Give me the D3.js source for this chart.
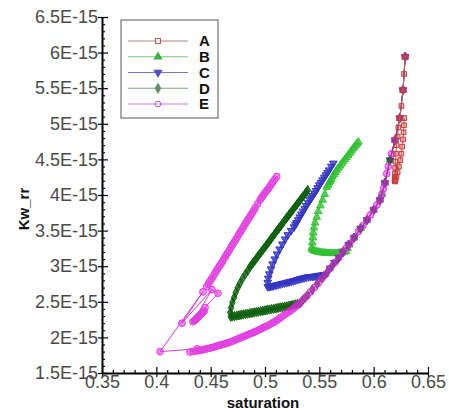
<!DOCTYPE html>
<html><head><meta charset="utf-8">
<script src="https://cdn.jsdelivr.net/npm/d3@7"></script>
<style>
html,body{margin:0;padding:0;background:#fff;}
svg{display:block;}
</style></head>
<body>
<svg id="chart" width="449" height="412"></svg>
<script>
// ---- data (saturation, Kw_rr in units of 1E-15) ----
const xTicks = [0.35, 0.4, 0.45, 0.5, 0.55, 0.6, 0.65];
const xTickLabels = ["0.35", "0.4", "0.45", "0.5", "0.55", "0.6", "0.65"];
const yTicks = [1.5, 2, 2.5, 3, 3.5, 4, 4.5, 5, 5.5, 6, 6.5];
const yTickLabels = ["1.5E-15", "2E-15", "2.5E-15", "3E-15", "3.5E-15", "4E-15", "4.5E-15", "5E-15", "5.5E-15", "6E-15", "6.5E-15"];
const seriesNames = ["A", "B", "C", "D", "E"];

const seriesA = [[0.629,5.94],[0.628,5.70],[0.627,5.475],[0.6255,5.25],[0.624,5.08],[0.6228,4.95],[0.622,4.82],[0.621,4.70],[0.6205,4.58],[0.620,4.47],[0.6198,4.38],[0.6196,4.30],[0.6195,4.25],[0.6194,4.22],[0.6193,4.20],[0.6197,4.19],[0.6202,4.21],[0.621,4.26],[0.622,4.32],[0.6232,4.40],[0.6245,4.49],[0.6255,4.58],[0.6263,4.68],[0.627,4.78],[0.6275,4.88],[0.6279,4.98],[0.6282,5.08]];

const seriesB = [[0.629,5.94],[0.627,5.475],[0.624,5.08],[0.6196,4.77],[0.615,4.49],[0.6104,4.17],[0.6075,4.01],[0.6058,3.93],[0.600,3.79],[0.5939,3.65],[0.588,3.53],[0.582,3.40],[0.5775,3.30],[0.576,3.25],[0.5745,3.21],[0.5728,3.20],[0.571,3.19],[0.5695,3.187],[0.568,3.185],[0.5665,3.182],[0.565,3.18],[0.5635,3.18],[0.562,3.18],[0.5605,3.18],[0.559,3.18],[0.5575,3.182],[0.556,3.185],[0.5545,3.187],[0.553,3.19],[0.5515,3.192],[0.550,3.195],[0.549,3.20],[0.5475,3.205],[0.546,3.212],[0.545,3.22],[0.544,3.23],[0.5435,3.24],[0.543,3.26],[0.5435,3.33],[0.544,3.40],[0.5444,3.47],[0.545,3.54],[0.546,3.61],[0.5476,3.69],[0.549,3.77],[0.551,3.85],[0.553,3.93],[0.555,4.01],[0.5568,4.11],[0.558,4.14],[0.559,4.17],[0.560,4.195],[0.561,4.22],[0.5622,4.255],[0.5635,4.29],[0.5648,4.32],[0.566,4.35],[0.5675,4.38],[0.569,4.41],[0.5705,4.44],[0.572,4.47],[0.5735,4.50],[0.575,4.53],[0.5765,4.56],[0.578,4.59],[0.5795,4.62],[0.581,4.65],[0.5822,4.675],[0.5835,4.70],[0.5847,4.72],[0.5859,4.745]];

const seriesC = [[0.629,5.94],[0.627,5.475],[0.624,5.08],[0.6196,4.77],[0.615,4.49],[0.6104,4.17],[0.6058,3.93],[0.600,3.79],[0.5939,3.65],[0.588,3.53],[0.582,3.40],[0.577,3.30],[0.5718,3.20],[0.568,3.12],[0.564,3.05],[0.560,2.97],[0.5555,2.88],[0.554,2.878],[0.552,2.875],[0.550,2.87],[0.548,2.865],[0.546,2.86],[0.544,2.855],[0.542,2.852],[0.540,2.85],[0.538,2.843],[0.536,2.835],[0.534,2.828],[0.532,2.82],[0.530,2.81],[0.528,2.80],[0.526,2.793],[0.524,2.785],[0.522,2.778],[0.520,2.77],[0.518,2.763],[0.516,2.755],[0.514,2.748],[0.512,2.74],[0.510,2.733],[0.508,2.725],[0.5065,2.72],[0.505,2.715],[0.5038,2.712],[0.5025,2.71],[0.5025,2.77],[0.503,2.83],[0.504,2.89],[0.5055,2.96],[0.507,3.03],[0.509,3.10],[0.511,3.17],[0.5135,3.24],[0.516,3.31],[0.5185,3.38],[0.521,3.44],[0.524,3.50],[0.5267,3.55],[0.528,3.585],[0.529,3.61],[0.5305,3.65],[0.532,3.69],[0.5335,3.73],[0.535,3.77],[0.5365,3.81],[0.538,3.85],[0.5397,3.89],[0.5414,3.93],[0.5427,3.96],[0.544,3.99],[0.5455,4.025],[0.547,4.06],[0.5485,4.10],[0.550,4.14],[0.5515,4.175],[0.553,4.21],[0.5545,4.245],[0.556,4.28],[0.5575,4.315],[0.559,4.35],[0.561,4.40],[0.5629,4.445]];

const seriesD = [[0.629,5.94],[0.627,5.475],[0.624,5.08],[0.6196,4.77],[0.615,4.49],[0.6104,4.17],[0.6058,3.93],[0.600,3.79],[0.5939,3.65],[0.588,3.53],[0.582,3.40],[0.577,3.30],[0.5718,3.20],[0.567,3.10],[0.562,3.01],[0.557,2.91],[0.5525,2.83],[0.548,2.75],[0.5435,2.67],[0.539,2.59],[0.5355,2.535],[0.5322,2.48],[0.530,2.472],[0.528,2.465],[0.526,2.457],[0.524,2.45],[0.522,2.443],[0.520,2.437],[0.518,2.431],[0.516,2.425],[0.514,2.42],[0.512,2.414],[0.510,2.408],[0.508,2.402],[0.506,2.397],[0.504,2.391],[0.502,2.385],[0.500,2.379],[0.498,2.373],[0.496,2.368],[0.494,2.362],[0.492,2.356],[0.490,2.35],[0.488,2.345],[0.486,2.339],[0.484,2.333],[0.482,2.328],[0.480,2.322],[0.478,2.316],[0.476,2.31],[0.474,2.305],[0.472,2.299],[0.470,2.294],[0.4685,2.29],[0.4680,2.35],[0.4688,2.42],[0.470,2.49],[0.4715,2.56],[0.473,2.63],[0.475,2.70],[0.477,2.76],[0.4795,2.83],[0.482,2.89],[0.4842,2.94],[0.4862,2.99],[0.4876,3.02],[0.489,3.047],[0.4905,3.078],[0.492,3.108],[0.4935,3.14],[0.495,3.17],[0.4965,3.20],[0.498,3.23],[0.4995,3.26],[0.501,3.29],[0.5025,3.32],[0.504,3.35],[0.5055,3.383],[0.507,3.415],[0.5085,3.445],[0.510,3.476],[0.5115,3.507],[0.513,3.537],[0.5145,3.568],[0.516,3.598],[0.5175,3.63],[0.519,3.66],[0.5205,3.69],[0.522,3.72],[0.5235,3.75],[0.525,3.78],[0.5265,3.81],[0.528,3.84],[0.5295,3.87],[0.531,3.90],[0.5325,3.93],[0.534,3.96],[0.5355,3.99],[0.537,4.02],[0.5382,4.045],[0.5393,4.07]];

const seriesE = [[0.629,5.94],[0.627,5.475],[0.624,5.08],[0.6196,4.77],[0.6165,4.58],[0.6135,4.40],[0.612,4.30],[0.6104,4.17],[0.609,4.09],[0.6075,4.01],[0.6058,3.93],[0.603,3.86],[0.600,3.79],[0.597,3.72],[0.5939,3.65],[0.590,3.57],[0.586,3.49],[0.582,3.40],[0.578,3.32],[0.575,3.26],[0.5718,3.20],[0.568,3.12],[0.564,3.05],[0.560,2.97],[0.556,2.89],[0.5525,2.83],[0.549,2.76],[0.5455,2.70],[0.542,2.64],[0.5385,2.58],[0.5355,2.535],[0.5322,2.48],[0.530,2.455],[0.528,2.43],[0.526,2.405],[0.524,2.38],[0.522,2.36],[0.520,2.34],[0.5175,2.31],[0.515,2.285],[0.513,2.262],[0.511,2.24],[0.509,2.222],[0.507,2.205],[0.505,2.187],[0.503,2.17],[0.501,2.155],[0.499,2.14],[0.497,2.125],[0.495,2.11],[0.493,2.095],[0.4908,2.08],[0.489,2.067],[0.487,2.055],[0.485,2.042],[0.483,2.03],[0.481,2.017],[0.479,2.005],[0.477,1.992],[0.475,1.98],[0.473,1.965],[0.4706,1.95],[0.4685,1.937],[0.466,1.925],[0.464,1.915],[0.462,1.905],[0.460,1.897],[0.458,1.89],[0.456,1.88],[0.454,1.87],[0.452,1.86],[0.4494,1.85],[0.447,1.842],[0.445,1.835],[0.443,1.827],[0.441,1.82],[0.439,1.815],[0.437,1.81],[0.434,1.80],[0.431,1.795],[0.4374,1.84],[0.4034,1.80],[0.4429,2.64],[0.4236,2.20],[0.4512,2.67],[0.4337,2.22],[0.435,2.235],[0.436,2.25],[0.437,2.265],[0.438,2.28],[0.439,2.295],[0.440,2.31],[0.441,2.325],[0.442,2.34],[0.443,2.355],[0.444,2.37],[0.4448,2.42],[0.4567,2.62],[0.4463,2.71],[0.4477,2.745],[0.449,2.78],[0.4505,2.815],[0.452,2.85],[0.4535,2.89],[0.455,2.93],[0.4565,2.965],[0.458,3.00],[0.4595,3.035],[0.461,3.07],[0.4625,3.11],[0.464,3.15],[0.4655,3.185],[0.467,3.22],[0.4685,3.26],[0.470,3.30],[0.4715,3.335],[0.473,3.37],[0.4745,3.41],[0.476,3.45],[0.4775,3.485],[0.479,3.52],[0.4805,3.56],[0.482,3.60],[0.4835,3.635],[0.485,3.67],[0.4865,3.705],[0.488,3.74],[0.4895,3.78],[0.491,3.82],[0.4932,3.875],[0.4954,3.93],[0.4967,3.96],[0.498,3.99],[0.4995,4.02],[0.501,4.05],[0.5025,4.08],[0.504,4.11],[0.5055,4.145],[0.507,4.18],[0.509,4.22],[0.5108,4.26]];

// ---- styling ----
const styles = {
  A: {line:"#b06a6a", stroke:"#c23a3a", fill:"rgba(225,70,70,0.35)", symbol:d3.symbolSquare, size:22, rot:0, lgLine:"#b88080", lgMark:"#b06060"},
  B: {line:"#3cc23c", stroke:"#33c033", fill:"rgba(50,195,50,0.75)", symbol:d3.symbolTriangle, size:25, rot:0, lgLine:"#78c878", lgMark:"#40b040"},
  C: {line:"#3a3ac4", stroke:"#3434c4", fill:"rgba(52,52,196,0.75)", symbol:d3.symbolTriangle, size:25, rot:180, lgLine:"#7878c8", lgMark:"#5050c0"},
  D: {line:"#0a640a", stroke:"#0d5e0d", fill:"rgba(12,94,12,0.75)", symbol:d3.symbolDiamond, size:25, rot:0, lgLine:"#78a878", lgMark:"#609060"},
  E: {line:"#d020d0", stroke:"#dc24dc", fill:"rgba(225,40,225,0.6)", symbol:d3.symbolCircle, size:36, rot:0, lgLine:"#d078d8", lgMark:"#b060c8"}
};
const seriesData = {A: seriesA, B: seriesB, C: seriesC, D: seriesD, E: seriesE};

const svg = d3.select("#chart");
svg.append("rect").attr("width",449).attr("height",412).attr("fill","#fff");

const x = d3.scaleLinear().domain([0.35, 0.65]).range([102, 428]);
const y = d3.scaleLinear().domain([1.5, 6.5]).range([373, 17]);
const FONT = "'Liberation Sans', Arial, sans-serif";

// minor ticks
const xMinor = d3.range(35, 66, 1).map(v => v/100).filter(v => !xTicks.some(t => Math.abs(t-v) < 1e-9));
const yMinor = d3.range(15, 66, 1).map(v => v/10).filter(v => !yTicks.some(t => Math.abs(t-v) < 1e-9));

// X axis
const gx = svg.append("g").attr("transform","translate(0,373)");
gx.call(d3.axisBottom(x).tickValues(xMinor).tickSize(-3).tickFormat(""))
  .call(g => g.select(".domain").remove());
const gx2 = svg.append("g").attr("transform","translate(0,373)");
gx2.call(d3.axisBottom(x).tickValues(xTicks).tickSize(-6).tickFormat(""))
  .call(g => g.select(".domain").remove());
const gx3 = svg.append("g").attr("transform","translate(0,373)");
gx3.call(d3.axisBottom(x).tickValues(xTicks).tickSizeInner(4).tickSizeOuter(0).tickPadding(-2)
        .tickFormat((d,i) => xTickLabels[i]));
gx3.selectAll("text").attr("font-family",FONT).attr("font-size",18).attr("fill","#4a4a4a");
gx3.select(".domain").attr("stroke","#000").attr("stroke-width",2);

// Y axis
const gy = svg.append("g").attr("transform","translate(102,0)");
gy.call(d3.axisLeft(y).tickValues(yMinor).tickSize(-3).tickFormat(""))
  .call(g => g.select(".domain").remove());
const gy2 = svg.append("g").attr("transform","translate(102,0)");
gy2.call(d3.axisLeft(y).tickValues(yTicks).tickSize(-6).tickFormat(""))
  .call(g => g.select(".domain").remove());
const gy3 = svg.append("g").attr("transform","translate(102,0)");
gy3.call(d3.axisLeft(y).tickValues(yTicks).tickSizeInner(4).tickSizeOuter(0).tickPadding(0)
        .tickFormat((d,i) => yTickLabels[i]));
gy3.selectAll("text").attr("font-family",FONT).attr("font-size",18).attr("fill","#4a4a4a");
gy3.select(".domain").attr("stroke","#000").attr("stroke-width",2);
svg.selectAll(".tick line").attr("stroke","#000").attr("stroke-width",1.2);

// axis titles
svg.append("text").attr("x",263).attr("y",408).attr("text-anchor","middle")
  .attr("font-family",FONT).attr("font-weight","bold").attr("font-size",15).attr("fill","#111").text("saturation");
svg.append("text").attr("transform","translate(29,209) rotate(-90)").attr("text-anchor","middle")
  .attr("font-family",FONT).attr("font-weight","bold").attr("font-size",15).attr("fill","#111").text("Kw_rr");

// series
const line = d3.line().x(d => x(d[0])).y(d => y(d[1]));
const plot = svg.append("g");
const order = ["B","C","D","E","A"];
order.forEach(name => {
  const st = styles[name];
  const data = seriesData[name];
  const g = plot.append("g").attr("opacity", name === "E" ? 0.88 : 1);
  g.append("path").datum(data).attr("d", line).attr("fill","none")
    .attr("stroke", st.line).attr("stroke-width", 1);
  g.selectAll("path.m").data(data).join("path").attr("class","m")
    .attr("d", d3.symbol().type(st.symbol).size(st.size))
    .attr("transform", d => `translate(${x(d[0])},${y(d[1])}) rotate(${st.rot})`)
    .attr("fill", st.fill).attr("stroke", st.stroke).attr("stroke-width", 1);
});

// legend
const lg = svg.append("g");
lg.append("rect").attr("x",121).attr("y",20).attr("width",97).attr("height",98)
  .attr("fill","#fff").attr("stroke","#555").attr("stroke-width",1);
const lgY = d3.scalePoint().domain(seriesNames).range([41, 104]);
seriesNames.forEach(name => {
  const st = styles[name];
  const yy = lgY(name);
  lg.append("line").attr("x1",128).attr("x2",188).attr("y1",yy).attr("y2",yy)
    .attr("stroke", st.lgLine).attr("stroke-width",1.2);
  lg.append("path").attr("d", d3.symbol().type(st.symbol).size(24))
    .attr("transform", `translate(158,${yy}) rotate(${st.rot})`)
    .attr("fill", name === "A" || name === "E" ? "rgba(255,255,255,0.6)" : st.lgMark)
    .attr("stroke", st.lgMark).attr("stroke-width",1.1);
  lg.append("text").attr("x",199).attr("y",yy).attr("dy","0.36em")
    .attr("font-family",FONT).attr("font-weight","bold").attr("font-size",15).attr("fill","#111").text(name);
});
</script>
</body></html>
